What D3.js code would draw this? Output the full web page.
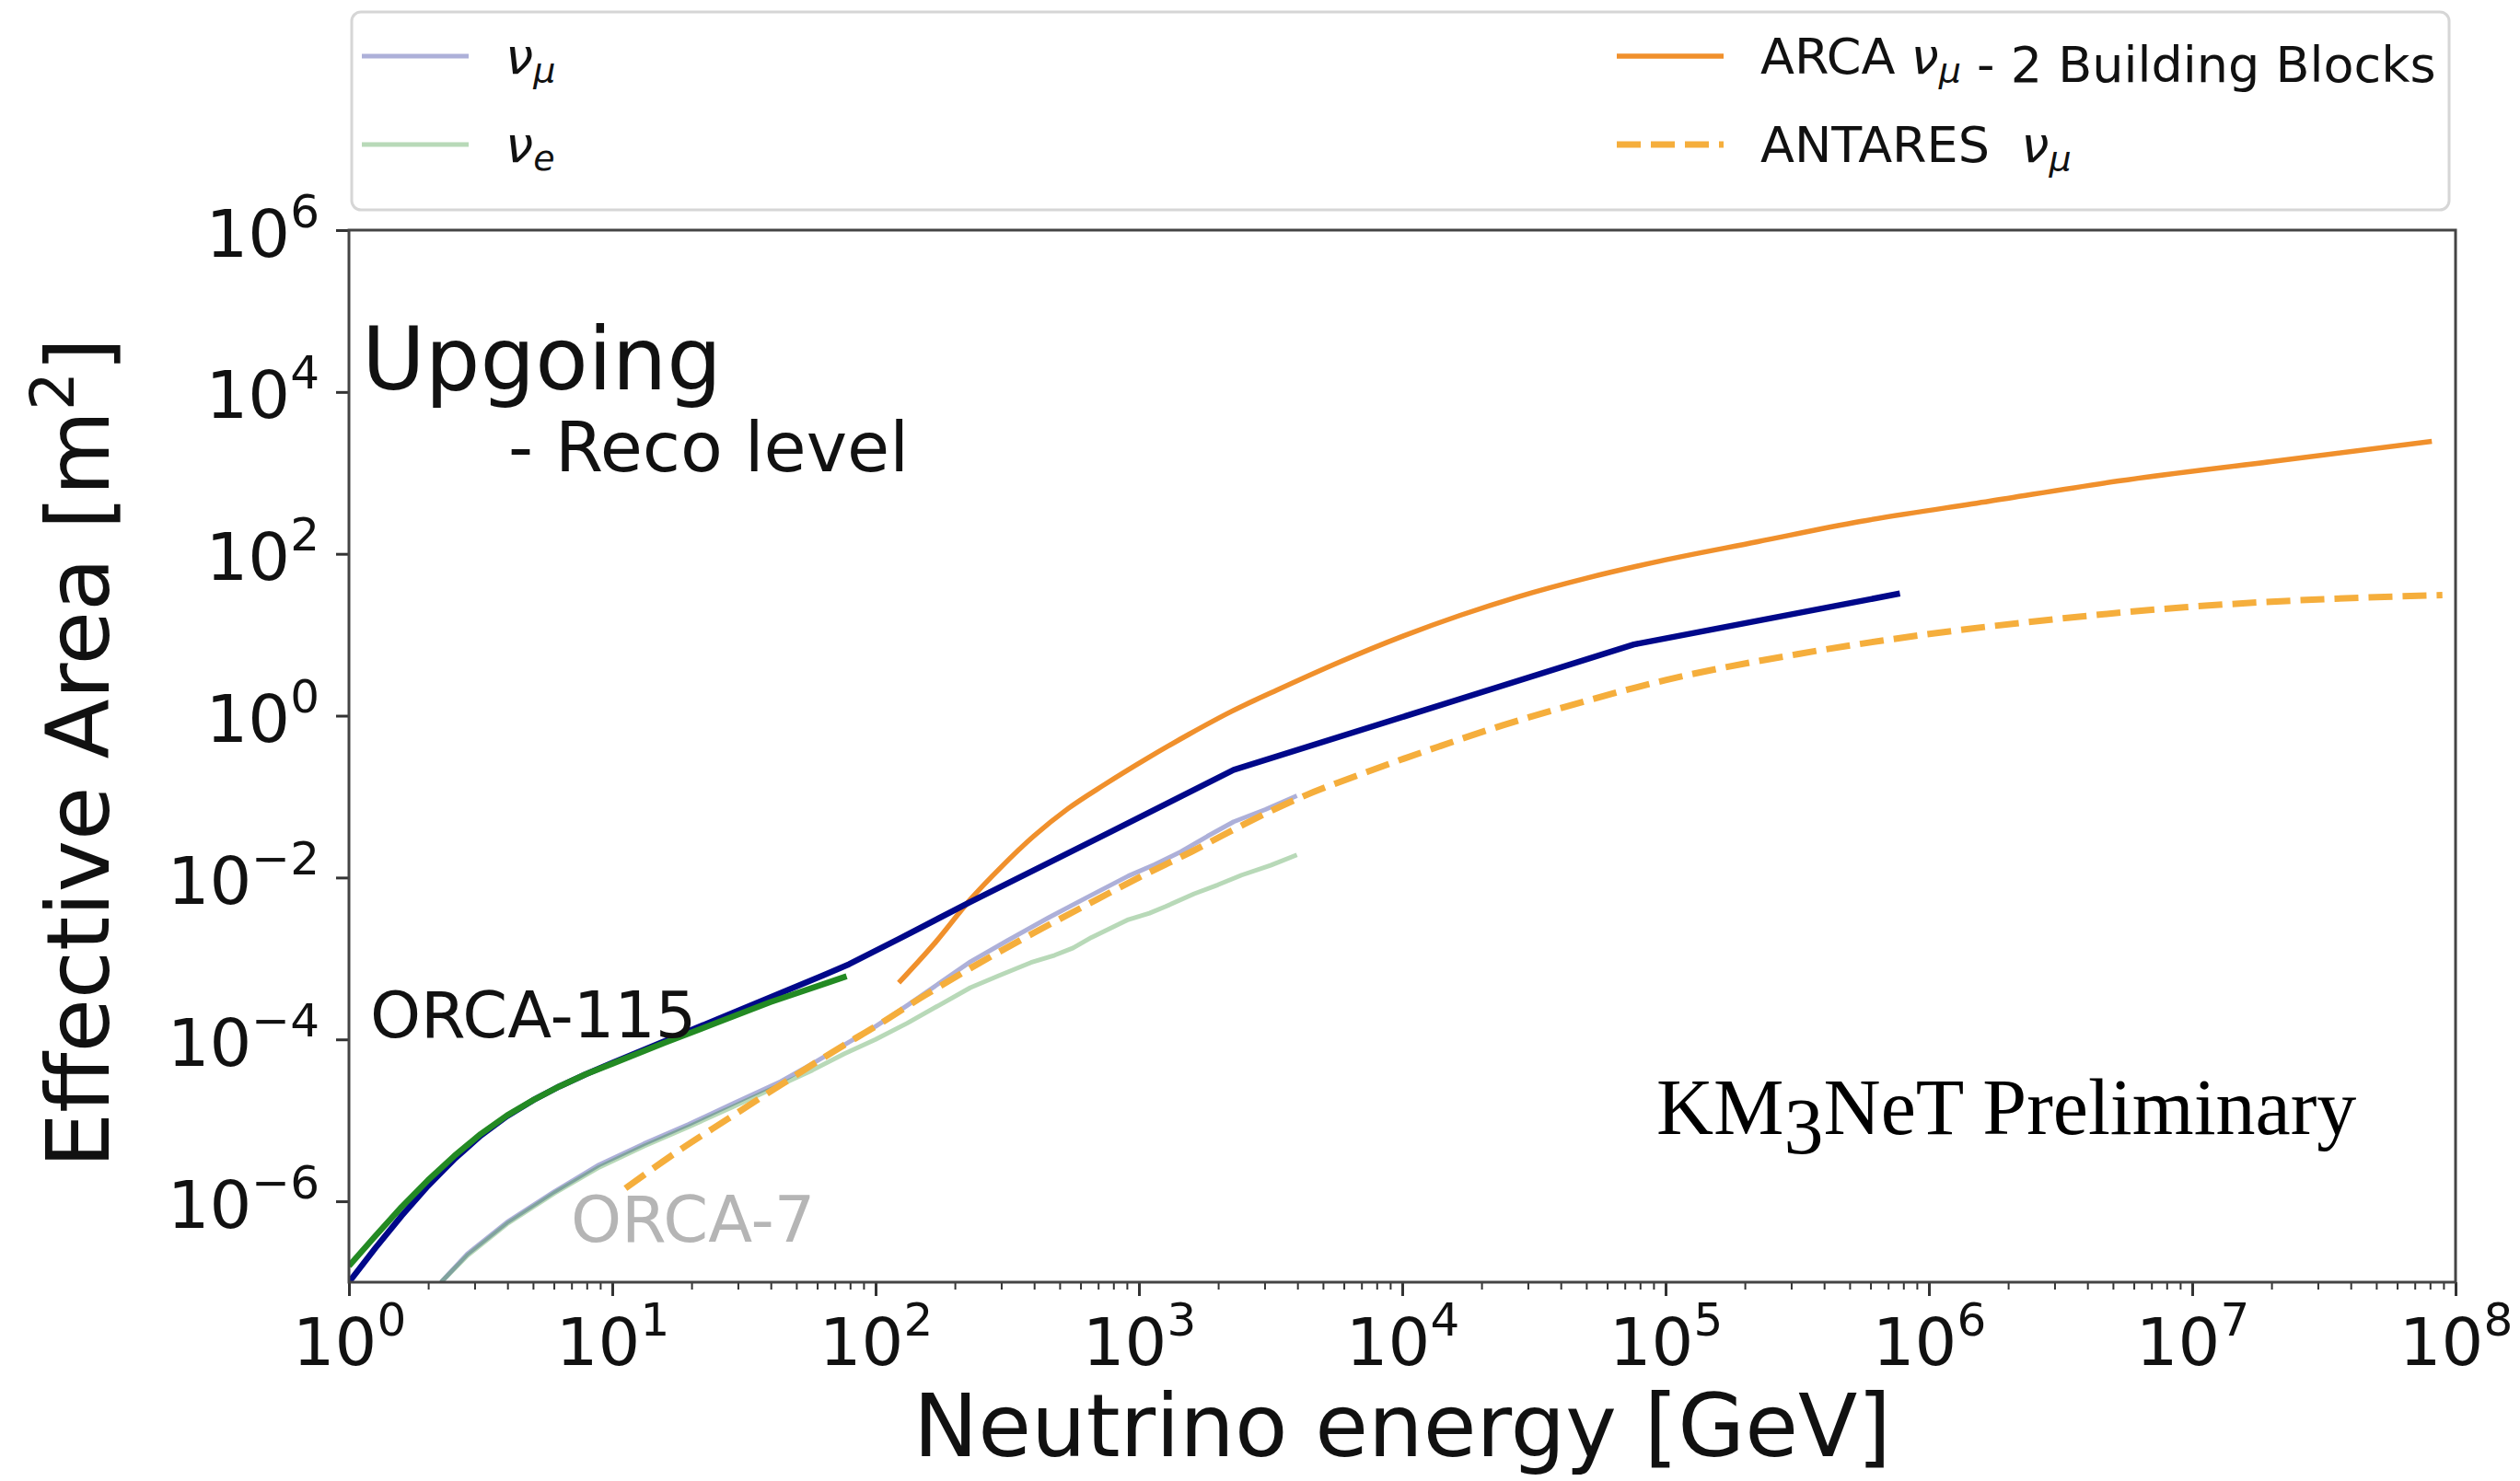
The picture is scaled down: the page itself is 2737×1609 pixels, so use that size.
<!DOCTYPE html>
<html>
<head>
<meta charset="utf-8">
<script src="https://cdn.jsdelivr.net/npm/d3@7"></script>
<style>
  body { margin: 0; background: #fff; }
  svg { display: block; font-family: "DejaVu Sans", sans-serif; }
</style>
</head>
<body>
<svg id="chart" width="2737" height="1609"></svg>
<script>
// Effective area curves, stored as log10(E / GeV) and log10(A / m^2)

// ORCA-115, nu_mu (reco level)
const orca115NumuLogE = [0.0, 0.1, 0.2, 0.3, 0.4, 0.5, 0.6, 0.7, 0.8, 0.9, 1.0, 1.2, 1.4, 1.6, 1.8, 1.9, 2.1, 2.36, 2.89, 3.36, 4.88, 5.89];
const orca115NumuLogA = [-7.0, -6.58, -6.18, -5.81, -5.48, -5.19, -4.95, -4.75, -4.58, -4.43, -4.29, -4.02, -3.75, -3.48, -3.21, -3.07, -2.74, -2.30, -1.44, -0.67, 0.88, 1.51];

// ORCA-115, nu_e
const orca115NueLogE = [0.0, 0.1, 0.2, 0.3, 0.4, 0.5, 0.6, 0.7, 0.8, 0.9, 1.0, 1.2, 1.4, 1.6, 1.8, 1.89];
const orca115NueLogA = [-6.80, -6.43, -6.07, -5.74, -5.44, -5.17, -4.94, -4.75, -4.58, -4.43, -4.30, -4.04, -3.79, -3.54, -3.32, -3.22];

// ORCA-7, nu_mu
const orca7NumuLogE = [0.35, 0.45, 0.6, 0.78, 0.95, 1.12, 1.29, 1.46, 1.64, 1.76, 1.88, 2.0, 2.12, 2.24, 2.36, 2.5, 2.66, 2.80, 2.96, 3.06, 3.16, 3.26, 3.36, 3.48, 3.60];
const orca7NumuLogA = [-7.0, -6.65, -6.26, -5.88, -5.55, -5.29, -5.05, -4.79, -4.52, -4.30, -4.07, -3.84, -3.58, -3.31, -3.04, -2.78, -2.49, -2.25, -1.98, -1.84, -1.68, -1.49, -1.31, -1.16, -0.99];

// ORCA-7, nu_e
const orca7NueLogE = [0.35, 0.45, 0.6, 0.78, 0.95, 1.12, 1.29, 1.46, 1.64, 1.76, 1.88, 2.0, 2.12, 2.24, 2.36, 2.47, 2.59, 2.68, 2.75, 2.82, 2.96, 3.04, 3.10, 3.21, 3.30, 3.39, 3.50, 3.60];
const orca7NueLogA = [-7.0, -6.67, -6.28, -5.90, -5.58, -5.32, -5.08, -4.83, -4.56, -4.38, -4.18, -4.00, -3.80, -3.58, -3.36, -3.21, -3.05, -2.96, -2.87, -2.74, -2.52, -2.44, -2.36, -2.20, -2.09, -1.97, -1.85, -1.72];

// ARCA nu_mu, 2 building blocks
const arcaLogE = [2.088, 2.23, 2.36, 2.48, 2.60, 2.73, 2.87, 3.03, 3.19, 3.35, 3.52, 3.76, 4.0, 4.22, 4.44, 4.7, 4.95, 5.35, 5.74, 6.23, 6.72, 7.3, 7.91];
const arcaLogA = [-3.30, -2.79, -2.27, -1.86, -1.49, -1.15, -0.85, -0.53, -0.23, 0.05, 0.31, 0.66, 0.98, 1.24, 1.47, 1.70, 1.89, 2.15, 2.40, 2.65, 2.90, 3.14, 3.39];

// ANTARES nu_mu
const antaresLogE = [1.05, 1.25, 1.44, 1.66, 1.88, 2.0, 2.18, 2.36, 2.58, 2.80, 3.0, 3.20, 3.40, 3.60, 3.87, 4.14, 4.38, 4.62, 5.0, 5.5, 5.98, 6.5, 6.97, 7.5, 7.95];
const antaresLogA = [-5.84, -5.38, -4.98, -4.52, -4.07, -3.84, -3.47, -3.12, -2.72, -2.34, -2.00, -1.68, -1.34, -1.03, -0.69, -0.38, -0.12, 0.11, 0.44, 0.76, 1.00, 1.20, 1.34, 1.44, 1.49];

// Axis ticks (decade exponents)
const xTickExponents = [0, 1, 2, 3, 4, 5, 6, 7, 8];
const yTickExponents = [-6, -4, -2, 0, 2, 4, 6];

// ---------------------------------------------------------------
const svg = d3.select("#chart");
const plot = { left: 379, right: 2667, top: 250, bottom: 1393 };

const x = d3.scaleLog().domain([1, 1e8]).range([plot.left, plot.right]);
const y = d3.scaleLog().domain([1e-7, 1e6]).range([plot.bottom, plot.top]);

const toPoints = (logE, logA) => d3.zip(logE, logA).map(([e, a]) => [10 ** e, 10 ** a]);

svg.append("rect").attr("width", 2737).attr("height", 1609).attr("fill", "#fff");

svg.append("defs").append("clipPath").attr("id", "plotClip")
  .append("rect")
  .attr("x", plot.left).attr("y", plot.top)
  .attr("width", plot.right - plot.left).attr("height", plot.bottom - plot.top);

const NAVY = "#00088a";
const GREEN = "#238a23";
const ORANGE = "#f0902c";
const LIGHT_ORANGE = "#f5ae3c";

const series = [
  { logE: arcaLogE, logA: arcaLogA, color: ORANGE, width: 5.5, opacity: 1, dash: null, curve: d3.curveMonotoneX },
  { logE: orca7NumuLogE, logA: orca7NumuLogA, color: NAVY, width: 5, opacity: 0.32, dash: null, curve: d3.curveLinear },
  { logE: orca7NueLogE, logA: orca7NueLogA, color: GREEN, width: 5, opacity: 0.32, dash: null, curve: d3.curveLinear },
  { logE: antaresLogE, logA: antaresLogA, color: LIGHT_ORANGE, width: 7, opacity: 1, dash: "26,11", curve: d3.curveMonotoneX },
  { logE: orca115NumuLogE, logA: orca115NumuLogA, color: NAVY, width: 6.5, opacity: 1, dash: null, curve: d3.curveLinear },
  { logE: orca115NueLogE, logA: orca115NueLogA, color: GREEN, width: 6.5, opacity: 1, dash: null, curve: d3.curveLinear }
];

const curves = svg.append("g").attr("clip-path", "url(#plotClip)");
series.forEach(s => {
  const line = d3.line().x(d => x(d[0])).y(d => y(d[1])).curve(s.curve);
  curves.append("path")
    .datum(toPoints(s.logE, s.logA))
    .attr("d", line)
    .attr("fill", "none")
    .attr("stroke", s.color)
    .attr("stroke-opacity", s.opacity)
    .attr("stroke-width", s.width)
    .attr("stroke-linejoin", "round")
    .attr("stroke-dasharray", s.dash);
});

// --- axes --------------------------------------------------------
const supText = (sel, exp, supSize, supDy) => {
  sel.text(null);
  sel.append("tspan").text("10");
  sel.append("tspan").attr("font-size", supSize).attr("dy", supDy)
    .text(exp < 0 ? "\u2212" + Math.abs(exp) : String(exp));
};

const minorX = [];
for (let k = 0; k < 8; k++) for (let m = 2; m <= 9; m++) minorX.push(m * 10 ** k);

svg.append("g")
  .attr("transform", `translate(0,${plot.bottom})`)
  .call(d3.axisBottom(x).tickValues(minorX).tickSize(8).tickFormat(() => ""))
  .call(g => g.select(".domain").remove())
  .call(g => g.selectAll(".tick line").attr("stroke", "#333").attr("stroke-width", 2));

const xAxisG = svg.append("g")
  .attr("transform", `translate(0,${plot.bottom})`)
  .call(d3.axisBottom(x).tickValues(xTickExponents.map(e => 10 ** e)).tickSize(15));
xAxisG.select(".domain").remove();
xAxisG.selectAll(".tick line").attr("stroke", "#333").attr("stroke-width", 3);
xAxisG.selectAll(".tick text")
  .attr("y", 90).attr("dy", 0)
  .attr("font-size", 72).attr("font-family", "DejaVu Sans").attr("fill", "#111")
  .each(function (d) { supText(d3.select(this), Math.round(Math.log10(d)), 50, -32); });

const yAxisG = svg.append("g")
  .attr("transform", `translate(${plot.left},0)`)
  .call(d3.axisLeft(y).tickValues(yTickExponents.map(e => 10 ** e)).tickSize(14).tickPadding(20));
yAxisG.select(".domain").remove();
yAxisG.selectAll(".tick line").attr("stroke", "#333").attr("stroke-width", 3);
yAxisG.selectAll(".tick text")
  .attr("x", -32).attr("y", 28).attr("dy", 0)
  .attr("font-size", 72).attr("font-family", "DejaVu Sans").attr("fill", "#111")
  .each(function (d) { supText(d3.select(this), Math.round(Math.log10(d)), 50, -32); });

// plot frame
svg.append("rect")
  .attr("x", plot.left).attr("y", plot.top)
  .attr("width", plot.right - plot.left).attr("height", plot.bottom - plot.top)
  .attr("fill", "none").attr("stroke", "#444").attr("stroke-width", 3);

// axis titles
svg.append("text")
  .attr("x", (plot.left + plot.right) / 2).attr("y", 1582)
  .attr("text-anchor", "middle").attr("font-size", 94).attr("fill", "#111")
  .text("Neutrino energy [GeV]");

const yTitle = svg.append("text")
  .attr("transform", "translate(118,818) rotate(-90)")
  .attr("text-anchor", "middle").attr("font-size", 95).attr("fill", "#111");
yTitle.append("tspan").text("Effective Area [m");
yTitle.append("tspan").attr("font-size", 66).attr("dy", -38).text("2");
yTitle.append("tspan").attr("dy", 38).text("]");

// annotations
svg.append("text").attr("x", 393).attr("y", 423).attr("font-size", 94).attr("fill", "#111").text("Upgoing");
svg.append("text").attr("x", 552).attr("y", 512).attr("font-size", 75).attr("fill", "#111").text("- Reco level");
svg.append("text").attr("x", 402).attr("y", 1127).attr("font-size", 70).attr("fill", "#111").text("ORCA-115");
svg.append("text").attr("x", 620).attr("y", 1349).attr("font-size", 70).attr("fill", "#b5b5b5").text("ORCA-7");

const km3 = svg.append("text")
  .attr("x", 1799).attr("y", 1232)
  .attr("font-family", "Liberation Serif, serif").attr("font-size", 86).attr("fill", "#000");
km3.append("tspan").text("KM");
km3.append("tspan").attr("dy", "0.24em").text("3");
km3.append("tspan").attr("dy", "-0.24em").text("NeT Preliminary");

// --- legend ------------------------------------------------------
const legend = svg.append("g");
legend.append("rect")
  .attr("x", 382).attr("y", 13).attr("width", 2278).attr("height", 215).attr("rx", 10)
  .attr("fill", "#fff").attr("stroke", "#d6d6d6").attr("stroke-width", 3);

const legendItems = [
  { x: 393, y: 61, color: NAVY, opacity: 0.32, width: 5, dash: null, label: ["", "e_mu"] },
  { x: 393, y: 157, color: GREEN, opacity: 0.32, width: 5, dash: null, label: ["", "e_e"] },
  { x: 1756, y: 61, color: ORANGE, opacity: 1, width: 5.5, dash: null, label: ["ARCA ", "e_mu", " - 2 Building Blocks"] },
  { x: 1756, y: 157, color: LIGHT_ORANGE, opacity: 1, width: 7, dash: "26,11", label: ["ANTARES  ", "e_mu"] }
];

legendItems.forEach(it => {
  legend.append("line")
    .attr("x1", it.x).attr("x2", it.x + 116).attr("y1", it.y).attr("y2", it.y)
    .attr("stroke", it.color).attr("stroke-opacity", it.opacity)
    .attr("stroke-width", it.width).attr("stroke-dasharray", it.dash);
  const t = legend.append("text")
    .attr("x", it.x + 156).attr("y", it.y + 19)
    .attr("font-size", 54).attr("fill", "#111").style("white-space", "pre");
  it.label.forEach(part => {
    if (part === "e_mu" || part === "e_e") {
      t.append("tspan").attr("font-style", "italic").text("\u03bd");
      t.append("tspan").attr("font-style", "italic").attr("font-size", 38).attr("dy", 9)
        .text(part === "e_mu" ? "\u03bc" : "e");
      t.append("tspan").attr("dy", -9).text("");
    } else if (part) {
      t.append("tspan").text(part);
    }
  });
});
</script>
</body>
</html>
